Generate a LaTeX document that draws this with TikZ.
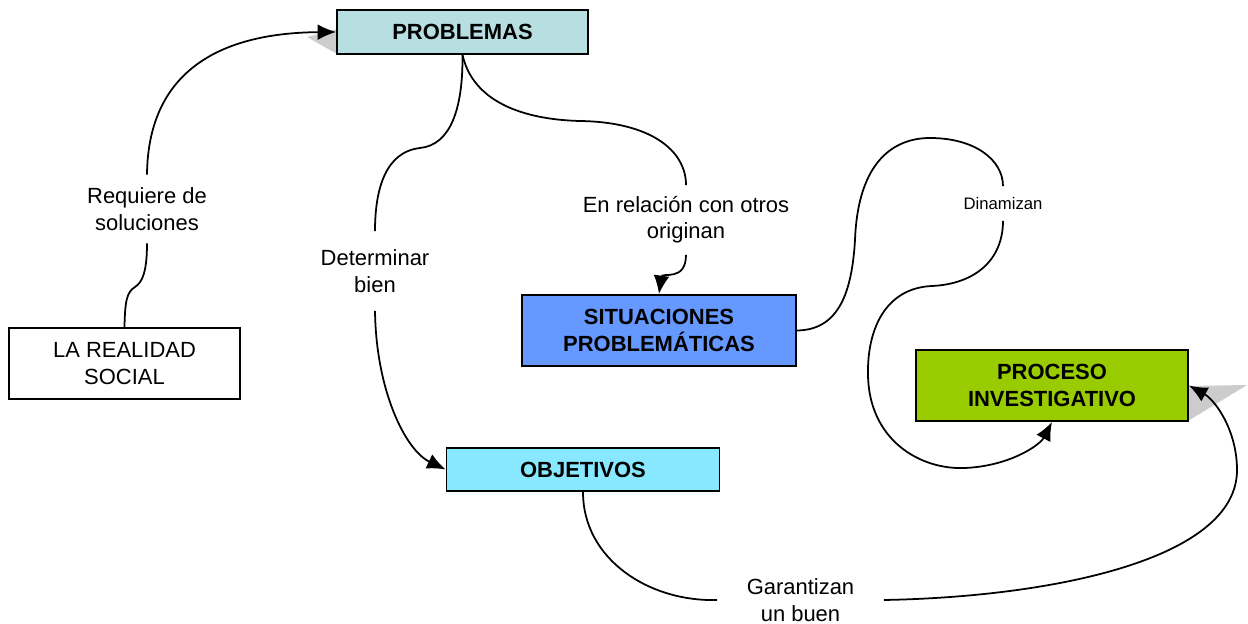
\documentclass[tikz,border=0pt]{standalone}
\usepackage{fontspec}
\setmainfont{Liberation Sans}
\usetikzlibrary{arrows.meta}
\definecolor{probcol}{RGB}{183,222,224}
\definecolor{sitcol}{RGB}{102,153,255}
\definecolor{proccol}{RGB}{153,204,0}
\definecolor{objcol}{RGB}{136,232,255}
\tikzset{
  concepto/.style={rectangle,draw=black,line width=1.1pt,align=center,font=\fontsize{12.5}{15}\selectfont\bfseries},
  enlace/.style={align=center,inner sep=0pt,font=\fontsize{12.5}{15}\selectfont,minimum height=1.36cm},
  sombra/.style={fill=gray!40}
}
\begin{document}
\begin{tikzpicture}[x=0.02cm,y=-0.02cm,>={Latex[length=10.5pt,width=9pt]},line width=1pt]
\useasboundingbox (0,0) rectangle (1248,624);
\fill[sombra] (307,37) -- (337,29) -- (337,54) -- cycle;
\fill[sombra] (1188,386) -- (1247,385) -- (1188,421) -- cycle;

\node (prob) at (462.5,32)[concepto,fill=probcol,minimum width=5.02cm,minimum height=0.88cm]{PROBLEMAS};
\node (real) at (124.5,363.5)[concepto,font=\fontsize{12.5}{15}\selectfont,minimum width=4.62cm,minimum height=1.42cm]{LA REALIDAD\\SOCIAL};
\node (sit) at (659,330.5)[concepto,fill=sitcol,minimum width=5.48cm,minimum height=1.42cm]{SITUACIONES\\PROBLEMÁTICAS};
\node (proc) at (1052,385.5)[concepto,fill=proccol,minimum width=5.44cm,minimum height=1.42cm]{PROCESO\\INVESTIGATIVO};
\node (obj) at (583,469.5)[concepto,fill=objcol,minimum width=5.46cm,minimum height=0.86cm]{OBJETIVOS};

\node (reqsol) at (147,209)[enlace,minimum height=1.34cm]{Requiere de\\soluciones};
\node (detbien) at (375,271)[enlace,minimum height=1.56cm]{Determinar\\bien};
\node (relorig) at (686,220)[enlace]{En relación con otros\\originan};
\node (dinam) at (1003,203.5)[enlace,font=\fontsize{9.5}{11}\selectfont,minimum height=0.66cm]{Dinamizan};
\node (garant) at (800.5,600)[enlace,minimum width=3.3cm]{Garantizan\\un buen};

\draw (real.north) .. controls (125,300) and (127,292) .. (135,287) .. controls (143,282) and (147,270) .. (reqsol.south);
\draw[->] (reqsol.north) .. controls (148,75) and (215,33) .. (prob.west);
\draw (prob.south) .. controls (463,110) and (450,145) .. (420,148) .. controls (385,152) and (375,190) .. (detbien.north);
\draw[->] (detbien.south) .. controls (376,390) and (405,450) .. (obj.west);
\draw (prob.south) .. controls (475,110) and (540,120) .. (580,121) .. controls (650,122) and (686,150) .. (relorig.north);
\draw[->] (relorig.south) .. controls (686,282) and (662,272) .. (sit.north);
\draw (sit.east) .. controls (840,330) and (852,290) .. (855,240) .. controls (858,160) and (895,138) .. (930,138) .. controls (975,138) and (1003,160) .. (dinam.north);
\draw[->] (dinam.south) .. controls (1003,260) and (975,284) .. (932,286) .. controls (885,288) and (867,330) .. (868,375) .. controls (869,440) and (920,470) .. (965,468) .. controls (1010,466) and (1040,445) .. (proc.south);
\draw (obj.south) .. controls (583,560) and (650,602) .. (garant.west);
\draw[->] (garant.east) .. controls (1050,597) and (1237,560) .. (1237,470) .. controls (1237,430) and (1215,400) .. (proc.east);
\end{tikzpicture}
\end{document}
